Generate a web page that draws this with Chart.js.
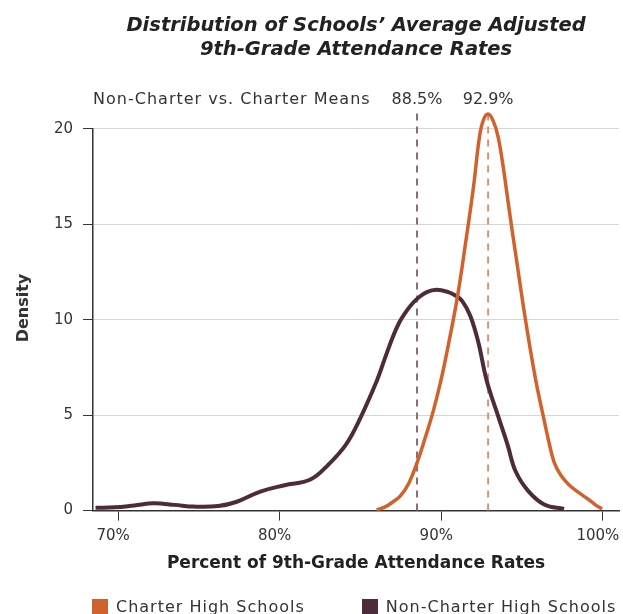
<!DOCTYPE html>
<html>
<head>
  <meta charset="utf-8">
  <script src="https://cdn.jsdelivr.net/npm/chart.js"></script>
  <style>
    html, body { margin: 0; padding: 0; background: #fff; overflow: hidden; }
    #wrap { position: relative; width: 623px; height: 614px; overflow: hidden; }
    #legend {
      position: absolute; top: 597px; left: 92px;
      display: flex; gap: 57px;
      font: 16px "DejaVu Sans"; letter-spacing: 1px; color: #333;
    }
    #legend .item { display: flex; align-items: center; }
    #legend .box { width: 16px; height: 16px; margin-right: 8px; }
  </style>
</head>
<body>
  <div id="wrap">
    <canvas id="densityChart"></canvas>
    <div id="legend"></div>
  </div>

  <script>
    // density curves (x = attendance %, y = density)
    const charterX = [86.0, 86.5, 87.0, 87.5, 88.0, 88.5, 89.0, 89.5, 90.0, 90.5, 91.0, 91.5, 92.0, 92.35, 92.6, 92.9, 93.2, 93.5, 93.8, 94.1, 94.4, 94.7, 95.1, 95.5, 95.9, 96.3, 96.7, 97.0, 97.4, 97.9, 98.5, 99.0, 99.5, 99.95];
    const charterDensity = [0.05, 0.18, 0.45, 0.8, 1.45, 2.5, 3.8, 5.2, 6.9, 8.95, 11.2, 14.0, 17.0, 19.5, 20.45, 20.78, 20.45, 19.65, 18.2, 16.4, 14.6, 12.9, 10.6, 8.5, 6.6, 5.0, 3.45, 2.5, 1.85, 1.36, 0.95, 0.65, 0.33, 0.08];

    const nonCharterX = [68.6, 69.8, 71.0, 72.2, 73.5, 74.7, 76.2, 77.3, 78.8, 80.3, 81.9, 83.0, 84.1, 84.9, 86.0, 86.5, 87.0, 87.4, 87.8, 88.2, 88.6, 89.1, 89.7, 90.4, 90.9, 91.3, 91.8, 92.3, 92.8, 93.5, 94.1, 94.6, 95.4, 96.4, 97.6];
    const nonCharterDensity = [0.15, 0.17, 0.27, 0.38, 0.30, 0.21, 0.24, 0.45, 1.0, 1.33, 1.63, 2.4, 3.46, 4.69, 6.78, 7.95, 9.1, 9.86, 10.4, 10.84, 11.17, 11.45, 11.57, 11.46, 11.26, 10.98, 10.2, 8.8, 6.85, 5.0, 3.46, 2.06, 1.01, 0.31, 0.09];

    // means: non-charter, charter
    const meanValues = [88.5, 92.9];
    const meanLabels = ['88.5%', '92.9%'];
    const meanLineTop = 20.9;

    const seriesNames = ['Charter High Schools', 'Non-Charter High Schools'];
    const xTicks = [70, 80, 90, 100];
    const yTicks = [0, 5, 10, 15, 20];

    const ORANGE = '#d0622d';
    const PURPLE = '#4e2b3a';
    const FONT = '"DejaVu Sans"';

    const toPoints = (xs, ys) => xs.map((x, i) => ({ x: x, y: ys[i] }));

    // mean labels over the dashed lines + rotated y title
    const meanNotes = {
      id: 'meanNotes',
      afterDraw(chart) {
        const { ctx, chartArea, scales } = chart;
        const y = chartArea.top - 25;
        ctx.save();
        ctx.fillStyle = '#333';
        ctx.font = '16px ' + FONT;
        ctx.textBaseline = 'alphabetic';
        ctx.textAlign = 'left';
        ctx.letterSpacing = '1px';
        ctx.fillText('Non-Charter vs. Charter Means', chartArea.left, y);
        ctx.letterSpacing = '0px';
        ctx.textAlign = 'center';
        meanValues.forEach((v, i) => {
          ctx.fillText(meanLabels[i], scales.x.getPixelForValue(v), y);
        });
        ctx.translate(24, 308);
        ctx.rotate(-Math.PI / 2);
        ctx.font = 'bold 16px ' + FONT;
        ctx.textBaseline = 'middle';
        ctx.fillText('Density', 0, 0);
        ctx.restore();
      }
    };

    const ctx = document.getElementById('densityChart').getContext('2d');
    const chart = new Chart(ctx, {
      type: 'line',
      data: {
        datasets: [{
          label: seriesNames[0],
          data: toPoints(charterX, charterDensity),
          borderColor: ORANGE,
          backgroundColor: ORANGE,
          borderWidth: 3.5,
          pointRadius: 0,
          tension: 0.4,
          clip: false
        }, {
          label: seriesNames[1],
          data: toPoints(nonCharterX, nonCharterDensity),
          borderColor: PURPLE,
          backgroundColor: PURPLE,
          borderWidth: 4,
          pointRadius: 0,
          tension: 0.4,
          clip: false
        }, {
          label: 'Non-Charter mean',
          data: [{ x: meanValues[0], y: 0 }, { x: meanValues[0], y: meanLineTop }],
          borderColor: '#8a6b78',
          borderWidth: 2,
          borderDash: [7, 6],
          pointRadius: 0,
          clip: false
        }, {
          label: 'Charter mean',
          data: [{ x: meanValues[1], y: 0 }, { x: meanValues[1], y: meanLineTop }],
          borderColor: '#e2926b',
          borderWidth: 2,
          borderDash: [7, 6],
          pointRadius: 0,
          clip: false
        }]
      },
      options: {
        responsive: true,
        maintainAspectRatio: false,
        animation: false,
        layout: { padding: { left: 44, right: 4, top: 0, bottom: 0 } },
        plugins: {
          legend: { display: false },
          tooltip: { enabled: false },
          title: {
            display: true,
            fullSize: false,
            text: ['Distribution of Schools\u2019 Average Adjusted', '9th-Grade Attendance Rates'],
            color: '#222',
            font: { family: FONT, size: 19.5, style: 'italic', weight: 'bold', lineHeight: 1.23 },
            padding: { top: 14, bottom: 67 }
          }
        },
        scales: {
          x: {
            type: 'linear',
            min: 68.45,
            max: 101,
            afterBuildTicks: (scale) => { scale.ticks = xTicks.map(v => ({ value: v })); },
            afterFit: (scale) => { scale.paddingLeft = 0; scale.paddingRight = 0; },
            grid: { display: true, drawOnChartArea: false, tickLength: 10, color: '#333', tickColor: '#333' },
            border: { color: '#333', width: 1.5 },
            ticks: {
              color: '#333',
              font: { family: FONT, size: 15 },
              padding: 7,
              labelOffset: -5,
              maxRotation: 0,
              callback: (v) => v + '%'
            },
            title: {
              display: true,
              text: 'Percent of 9th-Grade Attendance Rates',
              color: '#222',
              font: { family: FONT, size: 17, weight: 'bold' },
              padding: { top: 1, bottom: 40 }
            }
          },
          y: {
            min: 0,
            max: 20,
            afterBuildTicks: (scale) => { scale.ticks = yTicks.map(v => ({ value: v })); },
            grid: { color: '#d6d6d6', tickColor: '#333', tickLength: 10 },
            border: { color: '#333', width: 1.5 },
            ticks: { color: '#333', font: { family: FONT, size: 15 }, padding: 10 }
          }
        }
      },
      plugins: [meanNotes]
    });

    // html legend built from the chart's own legend items
    const legendEl = document.getElementById('legend');
    chart.options.plugins.legend.labels.generateLabels(chart)
      .filter(item => item.datasetIndex < 2)
      .forEach(item => {
        const el = document.createElement('div');
        el.className = 'item';
        const box = document.createElement('span');
        box.className = 'box';
        box.style.background = item.strokeStyle;
        const txt = document.createElement('span');
        txt.textContent = item.text;
        el.appendChild(box);
        el.appendChild(txt);
        legendEl.appendChild(el);
      });
  </script>
</body>
</html>
